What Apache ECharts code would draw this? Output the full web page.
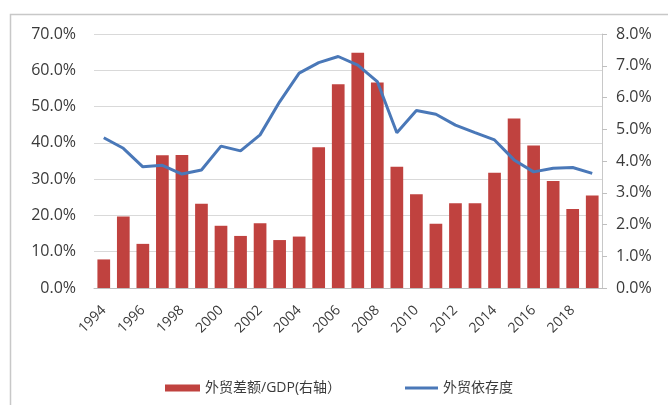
<!DOCTYPE html>
<html><head><meta charset="utf-8">
<script src="https://cdn.jsdelivr.net/npm/echarts@6/dist/echarts.min.js"></script>
<style>html,body{margin:0;padding:0;background:#fff}#c{width:668px;height:405px}</style>
</head><body><div id="c"></div>
<script>
const years = ['1994','1995','1996','1997','1998','1999','2000','2001','2002','2003','2004','2005','2006','2007','2008','2009','2010','2011','2012','2013','2014','2015','2016','2017','2018','2019'];
const balanceToGDP = [0.90,2.25,1.39,4.18,4.19,2.65,1.96,1.64,2.04,1.51,1.62,4.43,6.42,7.41,6.47,3.82,2.95,2.02,2.67,2.67,3.63,5.34,4.49,3.37,2.49,2.91];
const tradeDependence = [41.4,38.5,33.4,33.8,31.4,32.5,39.1,37.8,42.2,51.3,59.2,62.1,63.8,61.4,56.9,42.8,48.9,47.9,44.9,42.8,40.8,35.3,32.0,33.0,33.2,31.6];
const seriesNames = ['外贸差额/GDP(右轴）','外贸依存度'];

const chart = echarts.init(document.getElementById('c'));
const font = '"Open Sans","Noto Sans CJK SC",sans-serif';
const txt = '#3a3a3a';
chart.setOption({
  animation:false,
  textStyle:{fontFamily:font},
  graphic:[{type:'rect',shape:{x:10.5,y:14.5,width:700,height:420},style:{fill:'none',stroke:'#c8c8c8',lineWidth:1.5},silent:true}],
  grid:{left:94,right:66,top:34,bottom:117},
  legend:[{
    top:376,left:160,
    textStyle:{fontSize:14,color:txt,fontFamily:font},
    data:[{name:seriesNames[0],icon:'rect'}],
    itemWidth:35,itemHeight:7,itemGap:4
  },{
    top:376,left:400,
    textStyle:{fontSize:14,color:txt,fontFamily:font},
    data:[{name:seriesNames[1],icon:'rect'}],
    itemWidth:33,itemHeight:3
  }],
  xAxis:{
    type:'category',data:years,
    axisLine:{lineStyle:{color:'#bfbfbf'}},
    axisTick:{show:false},
    axisLabel:{interval:1,rotate:45,color:txt,fontSize:14,margin:20,fontFamily:font}
  },
  yAxis:[
    {type:'value',min:0,max:70,interval:10,position:'left',
     axisLabel:{formatter:v=>v.toFixed(1)+'%',color:txt,fontSize:16,margin:18,fontFamily:font},
     splitLine:{lineStyle:{color:'#d9d9d9'}},axisLine:{show:false},axisTick:{show:false}},
    {type:'value',min:0,max:8,interval:1,position:'right',
     axisLabel:{formatter:v=>v.toFixed(1)+'%',color:txt,fontSize:16,margin:14,fontFamily:font},
     splitLine:{show:false},
     axisLine:{show:true,lineStyle:{color:'#c8c8c8'}},
     axisTick:{show:true,length:5,lineStyle:{color:'#bfbfbf'}}}
  ],
  series:[
    {name:seriesNames[0],type:'bar',yAxisIndex:1,data:balanceToGDP,
     barWidth:'65%',itemStyle:{color:'#c0423f'}},
    {name:seriesNames[1],type:'line',yAxisIndex:0,data:tradeDependence,
     symbol:'none',lineStyle:{color:'#4a78b8',width:3},itemStyle:{color:'#4a78b8'}}
  ]
});
</script></body></html>
